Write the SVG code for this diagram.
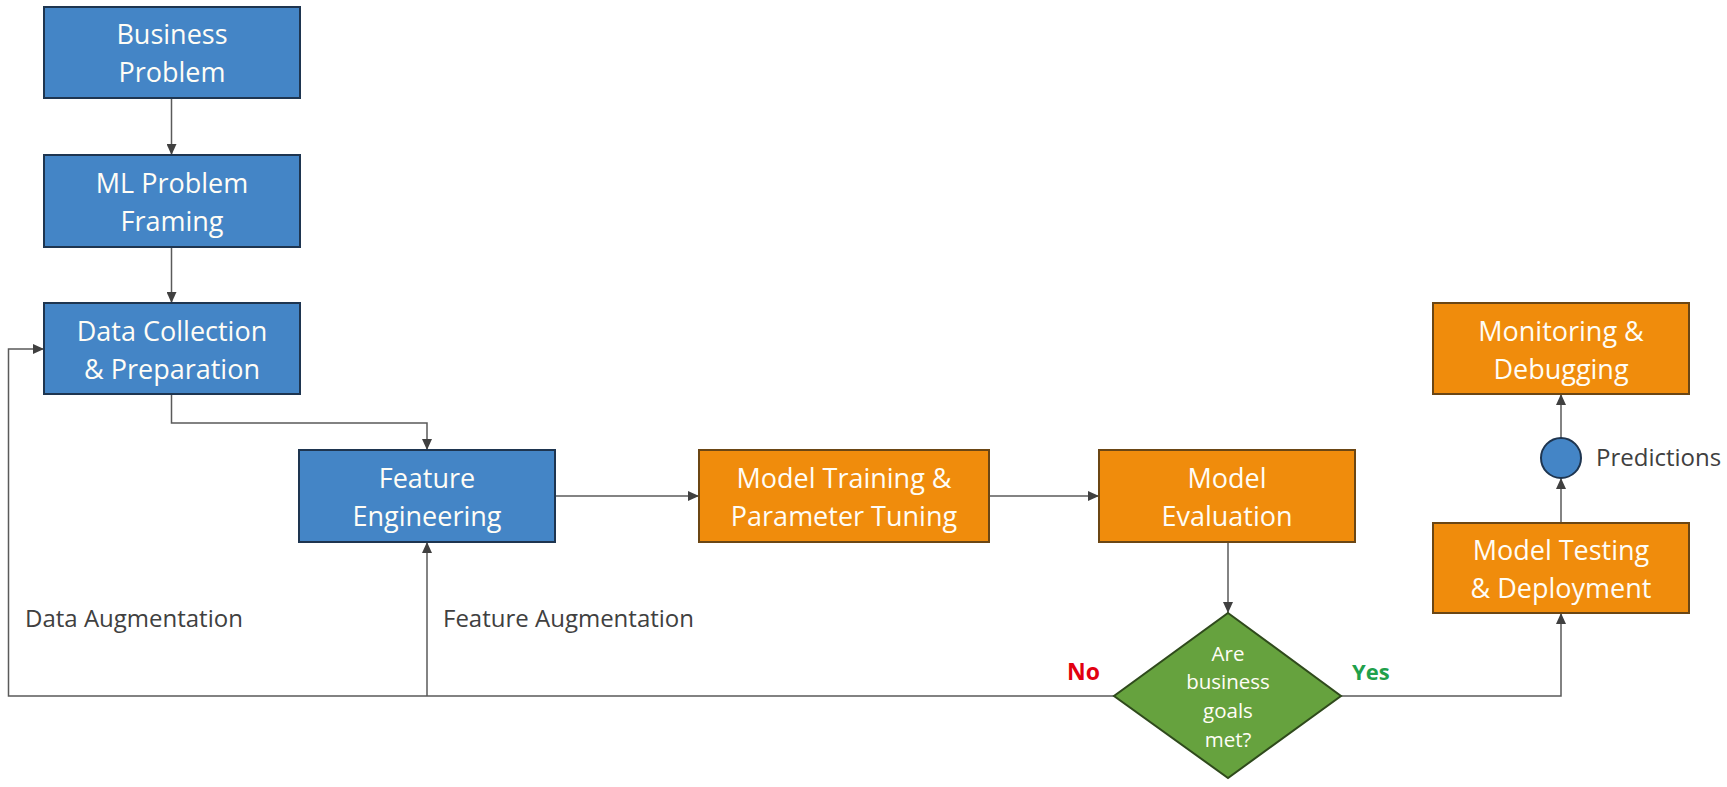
<svg xmlns="http://www.w3.org/2000/svg" width="1727" height="787" viewBox="0 0 1727 787">
<defs>
<marker id="arr" markerUnits="userSpaceOnUse" markerWidth="11" markerHeight="10" refX="11" refY="5" orient="auto">
<path d="M0,0 L11,5 L0,10 z" fill="#404040"/>
</marker>
<style>
.blue{fill:#4485C6;stroke:#1E3550;stroke-width:2}
.orange{fill:#F08C0C;stroke:#6B4614;stroke-width:2}
.green{fill:#66A23E;stroke:#2F4A1C;stroke-width:2}
.bt{font-family:"Open Sans","Liberation Sans",sans-serif;font-size:27px;fill:#FFFDF6;text-anchor:middle}
.dt{font-family:"Open Sans","Liberation Sans",sans-serif;font-size:20.5px;fill:#FFFDF6;text-anchor:middle}
.lbl{font-family:"Open Sans","Liberation Sans",sans-serif;font-size:24px;fill:#404040}
.conn{fill:none;stroke:#5A5A5A;stroke-width:1.5}
</style>
</defs>
<rect width="1727" height="787" fill="#FFFFFF"/>
<g id="connectors">
<path class="conn" d="M171.5,98 V155" marker-end="url(#arr)"/>
<path class="conn" d="M171.5,247 V303" marker-end="url(#arr)"/>
<path class="conn" d="M171.5,394 V423 H427 V450" marker-end="url(#arr)"/>
<path class="conn" d="M555,496 H699" marker-end="url(#arr)"/>
<path class="conn" d="M989,496 H1099" marker-end="url(#arr)"/>
<path class="conn" d="M1228,542 V613" marker-end="url(#arr)"/>
<path class="conn" d="M1341,696 H1561 V613" marker-end="url(#arr)"/>
<path class="conn" d="M1561,523 V478" marker-end="url(#arr)"/>
<path class="conn" d="M1561,438 V394" marker-end="url(#arr)"/>
<path class="conn" d="M1114,696 H8.5 V349 H44" marker-end="url(#arr)"/>
<path class="conn" d="M427,696 V542" marker-end="url(#arr)"/>
</g>
<g id="business-problem">
<rect class="blue" x="44" y="7" width="256" height="91"/>
<text class="bt" x="172" y="44">Business</text>
<text class="bt" x="172" y="82">Problem</text>
</g>
<g id="ml-problem-framing">
<rect class="blue" x="44" y="155" width="256" height="92"/>
<text class="bt" x="172" y="192.5">ML Problem</text>
<text class="bt" x="172" y="230.5">Framing</text>
</g>
<g id="data-collection">
<rect class="blue" x="44" y="303" width="256" height="91"/>
<text class="bt" x="172" y="340.5">Data Collection</text>
<text class="bt" x="172" y="378.5">&amp; Preparation</text>
</g>
<g id="feature-engineering">
<rect class="blue" x="299" y="450" width="256" height="92"/>
<text class="bt" x="427" y="487.5">Feature</text>
<text class="bt" x="427" y="525.5">Engineering</text>
</g>
<g id="model-training">
<rect class="orange" x="699" y="450" width="290" height="92"/>
<text class="bt" x="844" y="487.5">Model Training &amp;</text>
<text class="bt" x="844" y="525.5">Parameter Tuning</text>
</g>
<g id="model-evaluation">
<rect class="orange" x="1099" y="450" width="256" height="92"/>
<text class="bt" x="1227" y="487.5">Model</text>
<text class="bt" x="1227" y="525.5">Evaluation</text>
</g>
<g id="decision">
<polygon class="green" points="1228,613 1341,696 1228,778 1114,696"/>
<text class="dt" x="1228" y="661">Are</text>
<text class="dt" x="1228" y="689">business</text>
<text class="dt" x="1228" y="718">goals</text>
<text class="dt" x="1228" y="747">met?</text>
</g>
<g id="model-testing">
<rect class="orange" x="1433" y="523" width="256" height="90"/>
<text class="bt" x="1561" y="559.5">Model Testing</text>
<text class="bt" x="1561" y="597.5">&amp; Deployment</text>
</g>
<g id="predictions">
<circle cx="1561" cy="458" r="20" fill="#4485C6" stroke="#1E3550" stroke-width="2"/>
<text class="lbl" x="1596" y="466">Predictions</text>
</g>
<g id="monitoring">
<rect class="orange" x="1433" y="303" width="256" height="91"/>
<text class="bt" x="1561" y="340.5">Monitoring &amp;</text>
<text class="bt" x="1561" y="378.5">Debugging</text>
</g>
<g id="labels">
<text class="lbl" x="25" y="627">Data Augmentation</text>
<text class="lbl" x="443" y="627">Feature Augmentation</text>
<text x="1067" y="680" font-family="'Open Sans','Liberation Sans',sans-serif" font-size="23" font-weight="bold" fill="#E2000F">No</text>
<text x="1352" y="680" font-family="'Open Sans','Liberation Sans',sans-serif" font-size="22" font-weight="bold" fill="#1FA04B">Yes</text>
</g>
</svg>
